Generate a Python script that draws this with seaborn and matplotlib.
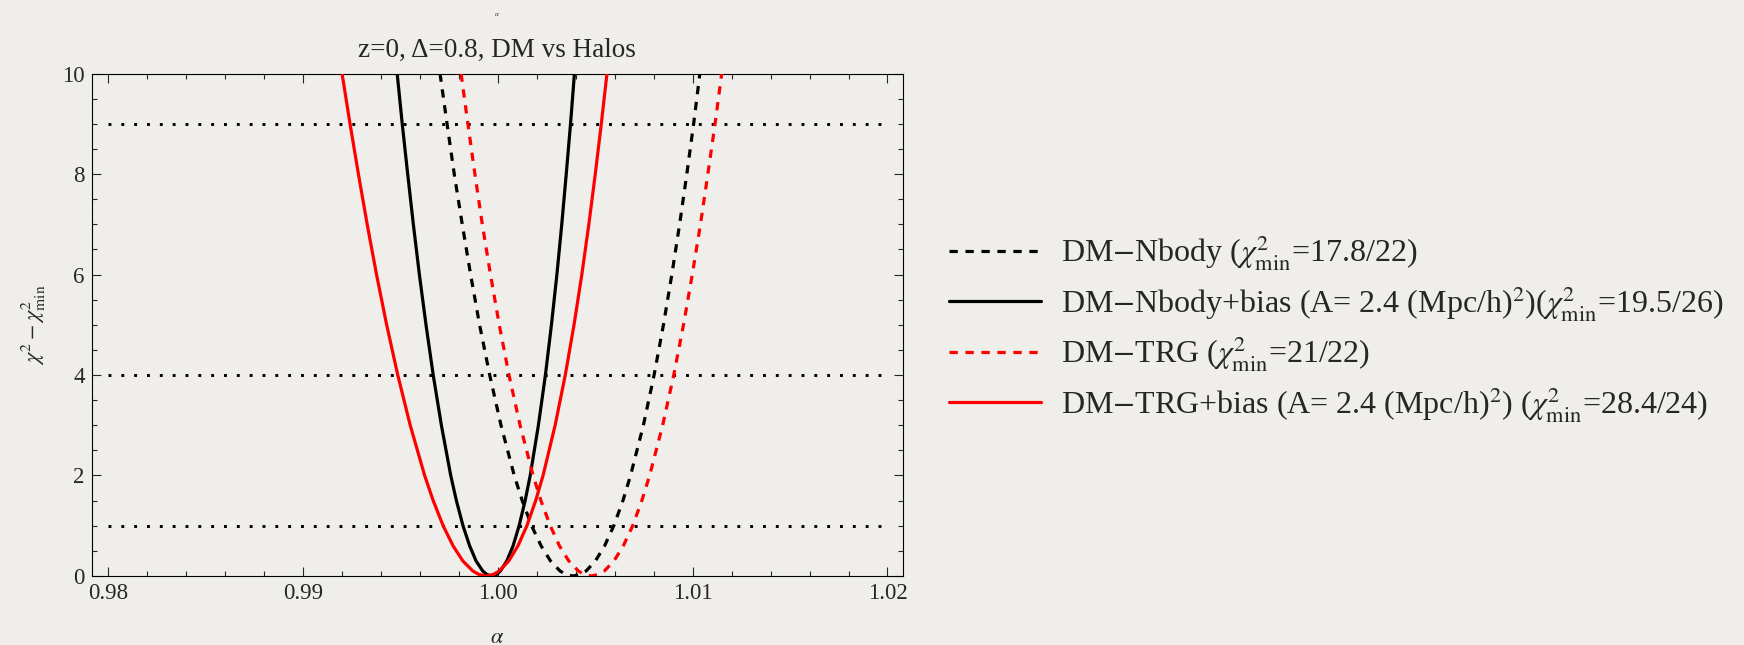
"""
Chi^2 profiles vs the BAO dilation parameter alpha (z=0, DM vs Halos).
"""

import numpy as np
import pandas as pd
import matplotlib
matplotlib.use("Agg")
import matplotlib.pyplot as plt
from matplotlib.ticker import MultipleLocator, FormatStrFormatter
import seaborn as sns

# ── Data ─────────────────────────────────────────────────────────────────────
CHI2_LEVELS = [10, 9, 8, 7, 6, 5, 4, 3, 2, 1.5, 1, 0.6, 0.3, 0.1, 0.03, 0,
               0.03, 0.1, 0.3, 0.6, 1, 1.5, 2, 3, 4, 5, 6, 7, 8, 9, 10]

ALPHA_NBODY = [0.99703, 0.99739, 0.99776, 0.99817, 0.99860, 0.99906, 0.99958,
               1.00016, 1.00084, 1.00125, 1.00173, 1.00222, 1.00270, 1.00319,
               1.00350, 1.00386,
               1.00423, 1.00453, 1.00501, 1.00548, 1.00595, 1.00642, 1.00681,
               1.00747, 1.00802, 1.00850, 1.00893, 1.00933, 1.00970, 1.01005,
               1.01037]
ALPHA_NBODY_BIAS = [0.99483, 0.99509, 0.99537, 0.99566, 0.99597, 0.99631, 0.99668,
                    0.99710, 0.99758, 0.99787, 0.99821, 0.99855, 0.99888, 0.99922,
                    0.99943, 0.99968,
                    0.99993, 1.00013, 1.00046, 1.00078, 1.00109, 1.00140, 1.00166,
                    1.00208, 1.00244, 1.00275, 1.00303, 1.00328, 1.00351, 1.00373,
                    1.00393]
ALPHA_TRG = [0.99811, 0.99846, 0.99882, 0.99920, 0.99962, 1.00007, 1.00057,
             1.00114, 1.00181, 1.00221, 1.00269, 1.00316, 1.00364, 1.00413,
             1.00443, 1.00480,
             1.00517, 1.00547, 1.00596, 1.00644, 1.00692, 1.00739, 1.00779,
             1.00846, 1.00903, 1.00953, 1.00998, 1.01040, 1.01078, 1.01115,
             1.01149]
ALPHA_TRG_BIAS = [0.99200, 0.99241, 0.99284, 0.99329, 0.99377, 0.99429, 0.99486,
                  0.99550, 0.99624, 0.99668, 0.99719, 0.99770, 0.99820, 0.99871,
                  0.99903, 0.99940,
                  0.99977, 1.00007, 1.00056, 1.00103, 1.00149, 1.00194, 1.00232,
                  1.00294, 1.00346, 1.00391, 1.00431, 1.00467, 1.00500, 1.00531,
                  1.00560]

SIGMA_LEVELS = [1, 4, 9]

LABELS = [
    r"DM$-$Nbody ($\chi^2_{\rm min}$=17.8/22)",
    r"DM$-$Nbody+bias (A= 2.4 (Mpc/h)$^2$)($\chi^2_{\rm min}$=19.5/26)",
    r"DM$-$TRG ($\chi^2_{\rm min}$=21/22)",
    r"DM$-$TRG+bias (A= 2.4 (Mpc/h)$^2$) ($\chi^2_{\rm min}$=28.4/24)",
]
X_TICKS = [0.98, 0.99, 1.00, 1.01, 1.02]
Y_TICKS = [0, 2, 4, 6, 8, 10]
TITLE = "z=0, \u0394=0.8, DM vs Halos"

# ── Style ────────────────────────────────────────────────────────────────────
PAPER = "#efeeea"
LW = 2.3
DASH = (2.6, 2.4)

sns.set_style("ticks", {"axes.facecolor": PAPER, "figure.facecolor": PAPER,
                        "axes.edgecolor": "black"})
plt.rcParams.update({
    "font.family":      ["Liberation Serif", "DejaVu Serif"],
    "mathtext.fontset": "stix",
    "axes.linewidth":   0.8,
    "xtick.direction":  "in",
    "ytick.direction":  "in",
    "xtick.top":        True,
    "ytick.right":      True,
    "xtick.major.size": 6.5,
    "ytick.major.size": 6.5,
    "xtick.minor.size": 3.6,
    "ytick.minor.size": 3.6,
    "xtick.major.width": 0.8,
    "ytick.major.width": 0.8,
    "xtick.minor.width": 0.8,
    "ytick.minor.width": 0.8,
})

fig = plt.figure(figsize=(17.44, 6.45), dpi=100)
ax = fig.add_axes([0.0526, 0.107, 0.4652, 0.779])

# reference Delta chi^2 levels
ax.hlines(SIGMA_LEVELS, X_TICKS[0], X_TICKS[-1], colors="black",
          linestyles=(0, (1, 3.4)), lw=2.1, zorder=1)

curves = [
    (ALPHA_NBODY,      "black", True),
    (ALPHA_NBODY_BIAS, "black", False),
    (ALPHA_TRG,        "red",   True),
    (ALPHA_TRG_BIAS,   "red",   False),
]
handles = []
for (alphas, color, dashed), label in zip(curves, LABELS):
    df = pd.DataFrame({"alpha": alphas, "chi2": CHI2_LEVELS})
    sns.lineplot(data=df, x="alpha", y="chi2", sort=False, estimator=None,
                 color=color, lw=LW, ax=ax, zorder=3)
    line = ax.lines[-1]
    if dashed:
        line.set_dashes(DASH)
    line.set_label(label)
    handles.append(line)
if ax.get_legend() is not None:
    ax.get_legend().remove()

ax.set_xlim(0.97915, 1.0208)
ax.set_ylim(0, 10)
ax.set_xticks(X_TICKS)
ax.set_yticks(Y_TICKS)
ax.xaxis.set_major_formatter(FormatStrFormatter("%.2f"))
ax.xaxis.set_minor_locator(MultipleLocator(0.002))
ax.yaxis.set_minor_locator(MultipleLocator(0.5))
ax.tick_params(axis="both", which="major", pad=5, labelsize=16.5)

ax.set_title(TITLE, fontsize=19.5, pad=12)
ax.set_xlabel(r"$\alpha$", fontsize=16, labelpad=18)
ax.set_ylabel(r"$\chi^2-\chi^2_{\rm min}$", fontsize=16, labelpad=10)
for s in ax.spines.values():
    s.set_visible(True)

# stray tiny glyph above the title
fig.text(0.285, 0.977, r"$\alpha$", fontsize=5, ha="center", va="center")

fig.legend(handles=handles, labels=LABELS, loc="upper left",
           bbox_to_anchor=(0.544, 0.638), frameon=False, fontsize=23,
           handlelength=2.9, handletextpad=0.6, labelspacing=0.36,
           borderpad=0, borderaxespad=0)

fig.savefig("out.png", dpi=100, facecolor=PAPER)
